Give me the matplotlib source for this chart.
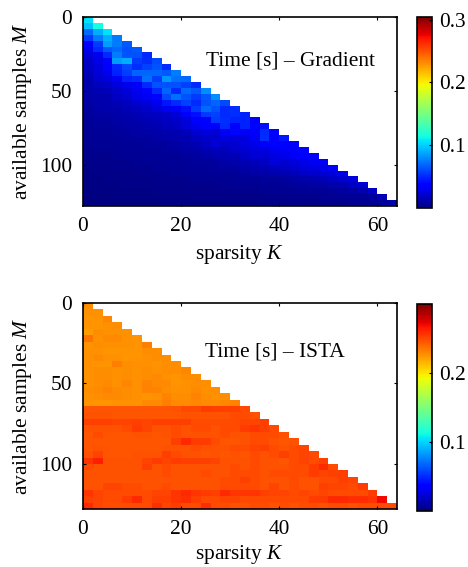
import numpy as np
import matplotlib
matplotlib.use("Agg")
import matplotlib.pyplot as plt

plt.rcParams['font.family'] = ['Liberation Serif', 'DejaVu Serif']
plt.rcParams['mathtext.fontset'] = 'custom'
plt.rcParams['mathtext.rm'] = 'Liberation Serif'
plt.rcParams['mathtext.it'] = 'Liberation Serif:italic'

# Times in milliseconds, one row per M (step 4), one value per K (step 2)
gradient_ms = [
    [105],
    [95, 115],
    [70, 90, 105],
    [55, 75, 90, 75],
    [35, 55, 85, 75, 65],
    [30, 50, 65, 70, 62, 65],
    [24, 30, 50, 75, 62, 62, 50],
    [20, 28, 38, 85, 90, 55, 52, 60],
    [18, 26, 34, 50, 60, 52, 58, 62, 50],
    [16, 24, 30, 48, 56, 68, 68, 68, 65, 75],
    [14, 22, 25, 32, 48, 50, 72, 56, 82, 72, 70],
    [13, 17, 20, 24, 30, 33, 50, 62, 62, 62, 58, 50],
    [12, 14, 16, 20, 24, 30, 38, 50, 68, 50, 70, 65, 80],
    [11, 13, 14, 18, 22, 28, 32, 38, 60, 72, 62, 55, 65, 80],
    [10, 12, 13, 15, 17, 22, 26, 30, 44, 50, 58, 50, 62, 68, 60],
    [9, 11, 12, 13, 15, 17, 19, 24, 30, 33, 42, 55, 70, 62, 50, 52],
    [8, 10, 10, 11, 13, 15, 17, 18, 20, 24, 36, 42, 55, 58, 50, 52, 48],
    [7, 9, 9, 10, 11, 13, 14, 16, 18, 20, 24, 36, 34, 55, 52, 48, 48, 36],
    [7, 8, 8, 9, 10, 11, 12, 14, 16, 18, 24, 30, 34, 34, 50, 34, 48, 38, 42],
    [6, 7, 7, 8, 9, 10, 10, 11, 13, 14, 16, 22, 24, 22, 32, 40, 32, 34, 50, 38],
    [5, 6, 6, 7, 8, 8, 9, 10, 11, 12, 14, 17, 20, 22, 26, 24, 26, 32, 52, 34, 44],
    [5, 5, 6, 6, 7, 7, 8, 8, 9, 10, 12, 14, 18, 24, 20, 22, 26, 28, 34, 34, 34, 36],
    [4, 5, 5, 5, 6, 6, 7, 7, 8, 9, 10, 11, 14, 16, 16, 20, 22, 24, 26, 30, 32, 34, 38],
    [4, 4, 4, 5, 5, 5, 6, 6, 7, 7, 8, 9, 10, 12, 14, 14, 18, 22, 22, 26, 28, 32, 34, 36],
    [3, 4, 4, 4, 4, 5, 5, 5, 6, 6, 7, 8, 8, 9, 11, 12, 14, 16, 18, 24, 22, 26, 28, 32, 32],
    [3, 3, 3, 4, 4, 4, 4, 5, 5, 5, 6, 6, 7, 8, 8, 9, 11, 12, 14, 16, 18, 20, 24, 26, 28, 32],
    [2, 3, 3, 3, 3, 4, 4, 4, 4, 5, 5, 5, 6, 6, 7, 7, 8, 10, 10, 12, 13, 16, 18, 20, 22, 24, 28],
    [2, 2, 3, 3, 3, 3, 3, 4, 4, 4, 4, 5, 5, 5, 5, 6, 6, 7, 8, 8, 9, 11, 12, 14, 16, 18, 22, 24],
    [2, 2, 2, 2, 3, 3, 3, 3, 3, 3, 4, 4, 4, 4, 5, 5, 5, 5, 6, 6, 7, 8, 9, 10, 10, 12, 14, 18, 22],
    [1, 2, 2, 2, 2, 2, 2, 3, 3, 3, 3, 3, 3, 4, 4, 4, 4, 4, 5, 5, 5, 5, 6, 6, 7, 8, 9, 10, 13, 18],
    [1, 1, 1, 2, 2, 2, 2, 2, 2, 2, 2, 3, 3, 3, 3, 3, 3, 3, 3, 4, 4, 4, 4, 4, 5, 5, 6, 6, 7, 9, 14],
    [1, 1, 1, 1, 1, 1, 1, 1, 2, 2, 2, 2, 2, 2, 2, 2, 2, 2, 3, 3, 3, 3, 3, 3, 4, 4, 4, 5, 5, 6, 8, 12],
]

ista_ms = [
    [228],
    [227, 227],
    [225, 226, 230],
    [226, 225, 227, 228],
    [223, 228, 227, 227, 227],
    [236, 227, 229, 229, 227, 226],
    [226, 228, 227, 227, 227, 226, 233],
    [227, 227, 226, 226, 226, 226, 228, 228],
    [227, 229, 227, 227, 226, 226, 227, 228, 228],
    [227, 225, 225, 233, 228, 227, 227, 225, 228, 228],
    [227, 228, 228, 227, 228, 227, 228, 227, 228, 228, 230],
    [227, 228, 228, 227, 228, 227, 228, 229, 227, 226, 228, 228],
    [227, 228, 229, 227, 230, 227, 231, 229, 229, 226, 227, 228, 228],
    [228, 229, 231, 229, 228, 227, 232, 231, 228, 227, 227, 229, 227, 228],
    [227, 228, 229, 229, 228, 227, 226, 227, 232, 228, 228, 231, 228, 227, 228],
    [225, 226, 226, 227, 227, 227, 229, 229, 233, 229, 229, 230, 229, 229, 230, 231],
    [245, 245, 245, 245, 245, 246, 246, 246, 246, 247, 250, 250, 254, 252, 252, 252, 249],
    [247, 247, 247, 246, 246, 246, 246, 246, 246, 246, 247, 247, 247, 247, 247, 249, 249, 247],
    [252, 252, 252, 251, 251, 252, 251, 252, 252, 252, 252, 249, 249, 249, 249, 249, 251, 251, 252],
    [247, 247, 247, 247, 249, 254, 251, 247, 247, 249, 247, 249, 249, 247, 249, 249, 254, 256, 252, 249],
    [246, 249, 246, 246, 246, 247, 247, 246, 247, 249, 247, 247, 247, 247, 249, 247, 247, 249, 249, 249, 247],
    [245, 246, 245, 246, 245, 245, 245, 246, 246, 253, 259, 254, 254, 249, 246, 246, 247, 249, 249, 247, 246, 247],
    [246, 247, 246, 245, 246, 245, 246, 246, 247, 247, 247, 249, 247, 247, 247, 249, 249, 251, 252, 249, 247, 249, 251],
    [247, 251, 246, 246, 245, 247, 247, 247, 252, 249, 247, 247, 245, 247, 246, 247, 246, 249, 247, 249, 252, 249, 251, 249],
    [256, 263, 247, 247, 247, 247, 251, 254, 251, 254, 252, 252, 252, 251, 247, 247, 247, 249, 247, 247, 245, 249, 251, 249, 252],
    [249, 247, 247, 247, 247, 247, 252, 247, 249, 247, 247, 247, 247, 247, 247, 249, 247, 249, 247, 247, 247, 249, 249, 254, 259, 249],
    [247, 247, 247, 247, 247, 247, 247, 247, 249, 247, 247, 247, 249, 247, 247, 249, 249, 249, 247, 249, 249, 249, 249, 254, 251, 252, 252],
    [247, 247, 247, 247, 247, 247, 247, 247, 247, 247, 247, 247, 247, 247, 249, 249, 252, 249, 247, 247, 247, 249, 247, 247, 249, 249, 252, 251],
    [247, 247, 251, 251, 249, 249, 247, 247, 249, 247, 247, 247, 247, 247, 249, 249, 249, 249, 247, 251, 247, 249, 247, 247, 252, 251, 251, 249, 254],
    [256, 251, 249, 249, 249, 249, 249, 251, 251, 256, 259, 256, 254, 252, 259, 256, 256, 256, 252, 251, 251, 249, 251, 249, 251, 249, 249, 249, 249, 254],
    [252, 251, 249, 249, 254, 259, 249, 252, 252, 256, 258, 252, 249, 249, 251, 251, 249, 249, 249, 249, 249, 249, 249, 254, 254, 259, 259, 258, 258, 256, 270],
    [259, 251, 249, 249, 249, 249, 249, 258, 251, 254, 249, 249, 258, 249, 249, 247, 247, 249, 249, 247, 249, 247, 249, 249, 247, 249, 249, 247, 249, 249, 249, 249],
]

k_edges = np.arange(0, 66, 2)
m_edges = np.arange(0, 132, 4)
x_ticks = [0, 20, 40, 60]
y_ticks = [0, 50, 100]
cbar_ticks_top = [0.1, 0.2, 0.3]
cbar_ticks_bottom = [0.1, 0.2]
titles = ["Time [s] \u2013 Gradient", "Time [s] \u2013 ISTA"]
xlabel = "sparsity $K$"
ylabel = "available samples $M$"

W, H = 468, 567
FS = 15.4


def to_grid(rows):
    grid = np.full((len(rows), len(k_edges) - 1), np.nan)
    for i, r in enumerate(rows):
        grid[i, :len(r)] = np.array(r) / 1000.0
    return np.ma.masked_invalid(grid)


def box(x0, y0, x1, y1):
    return [x0 / W, 1 - y1 / H, (x1 - x0) / W, (y1 - y0) / H]


fig = plt.figure(figsize=(W / 100, H / 100), dpi=100)
panels = [
    (gradient_ms, titles[0], (83, 17, 397, 206), (417, 17, 432, 208), 0.304, (206, 61), cbar_ticks_top, 5),
    (ista_ms, titles[1], (83, 303, 397, 509), (417, 304, 432, 511), 0.3, (205, 352), cbar_ticks_bottom, 2.5),
]
for rows, title, abox, cbox, vmax, tpos, ct, xpad in panels:
    ax = fig.add_axes(box(*abox))
    mesh = ax.pcolormesh(k_edges, m_edges, to_grid(rows), cmap='jet', vmin=0, vmax=vmax,
                         edgecolors='none', antialiased=False, rasterized=True)
    ax.set_xlim(0, 64)
    ax.set_ylim(128, 0)
    ax.set_xticks(x_ticks)
    ax.set_yticks(y_ticks)
    ax.tick_params(direction='in', length=2.5, width=0.8, top=True, right=True, labelsize=FS)
    ax.tick_params(axis='x', pad=8)
    ax.tick_params(axis='y', pad=8)
    ax.set_xlabel(xlabel, fontsize=FS, labelpad=xpad)
    ax.set_ylabel(ylabel, fontsize=FS, labelpad=4)
    for s in ax.spines.values():
        s.set_linewidth(1.2)
    fig.text(tpos[0] / W, 1 - tpos[1] / H, title, fontsize=FS, va='center', ha='left')
    cax = fig.add_axes(box(*cbox))
    cb = fig.colorbar(mesh, cax=cax)
    cb.set_ticks(ct)
    cb.ax.tick_params(direction='in', length=2.5, width=0.8, labelsize=FS, pad=5, color='k')
    cb.outline.set_linewidth(1.2)

fig.savefig('out.png', dpi=100)
